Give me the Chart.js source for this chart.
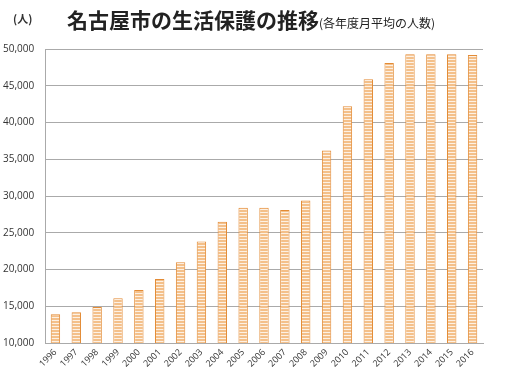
<!DOCTYPE html>
<html>
<head>
<meta charset="utf-8">
<script src="https://cdn.jsdelivr.net/npm/chart.js@4/dist/chart.umd.min.js"></script>
<style>
  body { margin: 0; background: #fff; }
  #wrap { position: relative; width: 520px; height: 385px; }
  #unit { position: absolute; left: 13px; top: 10px; font: bold 11px "Noto Sans CJK JP"; color: #333; }
  #title { position: absolute; left: 67px; top: 4px; font: bold 21px "Noto Sans CJK JP"; color: #222; white-space: nowrap; }
  #title span { font-size: 12px; font-weight: normal; }
</style>
</head>
<body>
<div id="wrap">
  <div id="unit">(人)</div>
  <div id="title">名古屋市の生活保護の推移<span>(各年度月平均の人数)</span></div>
  <canvas id="container" width="520" height="385"></canvas>
</div>
<script>
let ctx = document.getElementById('container').getContext('2d');
let years = ['1996', '1997', '1998', '1999', '2000', '2001', '2002', '2003', '2004', '2005', '2006',
  '2007', '2008', '2009', '2010', '2011', '2012', '2013', '2014', '2015', '2016'];
let persons = [13900, 14200, 14900, 16100, 17200, 18700, 21000, 23800, 26500, 28400, 28400,
  28100, 29400, 36200, 42200, 45900, 48100, 49300, 49300, 49300, 49200];

// striped fill like the original
let pc = document.createElement('canvas');
pc.width = 4; pc.height = 3;
let p = pc.getContext('2d');
p.fillStyle = '#f4c08a';
p.fillRect(0, 0, 4, 2);
p.fillStyle = '#fdf1e4';
p.fillRect(0, 2, 4, 1);
let stripes = ctx.createPattern(pc, 'repeat');

let myChart = new Chart(ctx, {
  type: 'bar',
  data: {
    labels: years,
    datasets: [{
      data: persons,
      backgroundColor: stripes,
      borderColor: '#e38b35',
      borderWidth: 1,
      barPercentage: 0.45,
      categoryPercentage: 1
    }]
  },
  options: {
    responsive: false,
    animation: false,
    layout: { padding: { top: 49, right: 37, left: 3 } },
    plugins: { legend: { display: false }, tooltip: { enabled: false } },
    scales: {
      x: {
        grid: { display: false, drawTicks: false },
        border: { color: '#aaa' },
        ticks: { color: '#333', font: { family: 'Open Sans', size: 9 }, autoSkip: false, minRotation: 45, maxRotation: 45, padding: 4 },
        afterFit: (s) => { s.height = 42; }
      },
      y: {
        min: 10000,
        max: 50000,
        grid: { color: '#aaa', drawTicks: false },
        border: { color: '#aaa' },
        ticks: {
          stepSize: 5000,
          color: '#333',
          font: { family: 'Open Sans', size: 10 },
          crossAlign: 'far',
          padding: 6,
          callback: (v) => v.toLocaleString('en-US')
        },
        afterFit: (s) => { s.width = 42; }
      }
    }
  }
});
</script>
</body>
</html>
